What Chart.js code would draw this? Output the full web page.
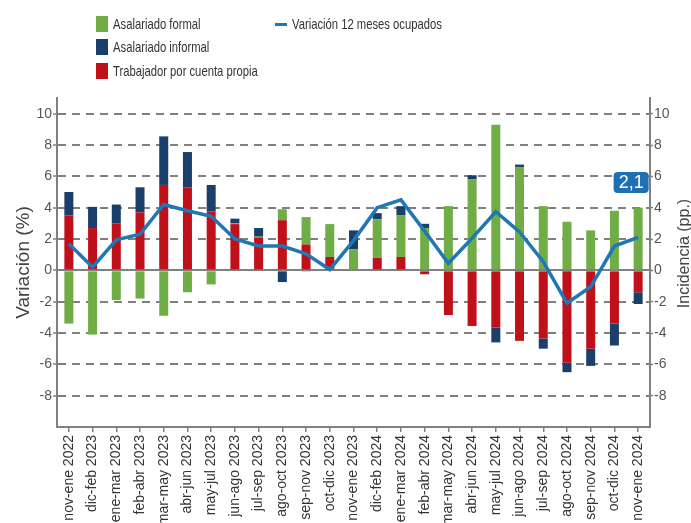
<!DOCTYPE html>
<html>
<head>
<meta charset="utf-8">
<script src="https://cdn.jsdelivr.net/npm/chart.js@4"></script>
<style>
  body { margin: 0; overflow: hidden; background: #fff; font-family: "Liberation Sans", Arial, sans-serif; }
  #wrap { position: relative; width: 691px; height: 600px; }
  .leg { position: absolute; font-size: 15px; color: #333; white-space: nowrap; line-height: 18px; transform: scaleX(0.75); transform-origin: 0 50%; }
  .box { position: absolute; width: 12px; height: 16px; }
  .lin { position: absolute; width: 12px; height: 3px; }
</style>
</head>
<body>
<div id="wrap">
  <canvas id="myChart"></canvas>
  <div class="box" style="left:96px;top:16px;background:#70AD47"></div>
  <div class="leg" style="left:113px;top:15px">Asalariado formal</div>
  <div class="box" style="left:96px;top:39px;background:#1B3F6B"></div>
  <div class="leg" style="left:113px;top:38px">Asalariado informal</div>
  <div class="box" style="left:96px;top:63px;background:#C0101A"></div>
  <div class="leg" style="left:113px;top:62px">Trabajador por cuenta propia</div>
  <div class="lin" style="left:275px;top:23px;background:#1F77B4"></div>
  <div class="leg" style="left:292px;top:15px">Variación 12 meses ocupados</div>
</div>
<script>
// periodos moviles
const labels = ['nov-ene 2022', 'dic-feb 2023', 'ene-mar 2023', 'feb-abr 2023', 'mar-may 2023',
    'abr-jun 2023', 'may-jul 2023', 'jun-ago 2023', 'jul-sep 2023', 'ago-oct 2023',
    'sep-nov 2023', 'oct-dic 2023', 'nov-ene 2023', 'dic-feb 2024', 'ene-mar 2024',
    'feb-abr 2024', 'mar-may 2024', 'abr-jun 2024', 'may-jul 2024', 'jun-ago 2024',
    'jul-sep 2024', 'ago-oct 2024', 'sep-nov 2024', 'oct-dic 2024', 'nov-ene 2024'];

// incidencias (pp.)
const cuentaPropia = [3.5, 2.7, 3.0, 3.7, 5.45, 5.3, 3.75, 2.95, 2.1, 3.2, 1.65, 0.85, 0,
    0.8, 0.85, -0.25, -2.85, -3.55, -3.65, -4.5, -4.35, -5.9, -5.0, -3.4, -1.4];
const asalFormal = [-3.4, -4.1, -1.9, -1.8, -2.9, -1.4, -0.9, 0.05, 0.05, 0.7, 1.75, 2.1, 1.35,
    2.45, 2.65, 2.7, 4.1, 5.8, 9.3, 6.6, 4.1, 3.1, 2.55, 3.8, 4.0];
const asalInformal = [1.5, 1.35, 1.2, 1.6, 3.1, 2.25, 1.7, 0.3, 0.55, -0.75, -0.05, 0, 1.2,
    0.4, 0.6, 0.27, 0, 0.27, -0.95, 0.15, -0.65, -0.6, -1.1, -1.4, -0.75];

// variacion 12 meses ocupados (%)
const variacion = [1.7, 0.2, 1.95, 2.3, 4.2, 3.8, 3.45, 2.0, 1.55, 1.55, 1.05, 0.05, 1.9,
    4.0, 4.5, 2.5, 0.45, 2.05, 3.75, 2.45, 0.55, -2.1, -1.05, 1.55, 2.1];

const yTicks = [-8, -6, -4, -2, 0, 2, 4, 6, 8, 10];

const VERDE = '#70AD47';
const AZUL = '#1B3F6B';
const ROJO = '#C0101A';
const LINEA = '#1F77B4';
const GRIS = '#808080';

const H = 600;
const fuente = '"Liberation Sans", Arial, sans-serif';

// etiqueta del ultimo dato y titulo del eje derecho
const extras = {
    id: 'extras',
    afterDatasetsDraw(chart) {
        const meta = chart.getDatasetMeta(3);
        const pt = meta.data[meta.data.length - 1];
        const ctx = chart.ctx;
        const txt = variacion[variacion.length - 1].toFixed(1).replace('.', ',');
        ctx.save();
        ctx.font = '18px ' + fuente;
        const w = ctx.measureText(txt).width + 10;
        const h = 21;
        const cx = pt.x - 7, cy = pt.y - 55;
        ctx.fillStyle = '#1F70B0';
        ctx.beginPath();
        ctx.roundRect(cx - w / 2, cy - h / 2, w, h, 4);
        ctx.fill();
        ctx.fillStyle = '#fff';
        ctx.textAlign = 'center';
        ctx.textBaseline = 'middle';
        ctx.fillText(txt, cx, cy + 1);
        ctx.restore();
    },
    afterDraw(chart) {
        const ctx = chart.ctx;
        const a = chart.chartArea;
        ctx.save();
        ctx.translate(chart.width - 6, (a.top + a.bottom) / 2 - 9);
        ctx.rotate(-Math.PI / 2);
        ctx.font = '16px ' + fuente;
        ctx.fillStyle = '#444';
        ctx.textAlign = 'center';
        ctx.textBaseline = 'middle';
        ctx.fillText('Incidencia (pp.)', 0, 0);
        ctx.restore();
    }
};

const barOpts = { stack: 's', order: 1, categoryPercentage: 0.76, barPercentage: 0.5 };

var ctx = document.getElementById('myChart');
var myChart = new Chart(ctx, {
    type: 'bar',
    data: {
        labels: labels,
        datasets: [
            Object.assign({ label: 'Trabajador por cuenta propia', data: cuentaPropia, backgroundColor: ROJO }, barOpts),
            Object.assign({ label: 'Asalariado formal', data: asalFormal, backgroundColor: VERDE }, barOpts),
            Object.assign({ label: 'Asalariado informal', data: asalInformal, backgroundColor: AZUL }, barOpts),
            {
                type: 'line',
                label: 'Variación 12 meses ocupados',
                data: variacion,
                borderColor: LINEA,
                borderWidth: 3.5,
                pointRadius: 0,
                tension: 0,
                yAxisID: 'y2',
                order: 0
            }
        ]
    },
    options: {
        responsive: true,
        maintainAspectRatio: false,
        animation: false,
        layout: { padding: { top: 98, left: 0, right: 0, bottom: 0 } },
        plugins: { legend: { display: false }, tooltip: { enabled: false } },
        scales: {
            x: {
                stacked: true,
                offset: true,
                grid: { offset: false, drawOnChartArea: false, drawTicks: true, tickLength: 5, color: GRIS, lineWidth: 1.5 },
                border: { display: true, color: GRIS, width: 2 },
                ticks: { minRotation: 90, maxRotation: 90, autoSkip: false, padding: 3, color: '#333', font: { size: 14, family: fuente } },
                afterFit: function (s) { s.height = H - 427; }
            },
            y: {
                stacked: true,
                min: -10,
                max: 11,
                afterBuildTicks: function (s) { s.ticks = yTicks.map(v => ({ value: v })); },
                grid: { color: GRIS, lineWidth: 2, tickLength: 4, tickColor: GRIS, tickWidth: 1.5, tickBorderDash: [] },
                border: {
                    display: true, color: GRIS, width: 2,
                    dash: function (c) { return (c.tick && c.tick.value === 0) ? [] : [8, 6]; }
                },
                ticks: { padding: 1, color: '#555', font: { size: 14, family: fuente } },
                title: { display: true, text: 'Variación (%)', color: '#444', font: { size: 19, family: fuente }, padding: { top: 12, bottom: 0 } },
                afterFit: function (s) { s.width = 57; }
            },
            y2: {
                position: 'right',
                min: -10,
                max: 11,
                afterBuildTicks: function (s) { s.ticks = yTicks.map(v => ({ value: v })); },
                grid: { drawOnChartArea: false, tickLength: 3, color: GRIS, tickWidth: 1.5 },
                border: { display: true, color: GRIS, width: 2 },
                ticks: { padding: 1, color: '#555', font: { size: 14, family: fuente } },
                afterFit: function (s) { s.width = 691 - 650; }
            }
        }
    },
    plugins: [extras]
});
</script>
</body>
</html>
